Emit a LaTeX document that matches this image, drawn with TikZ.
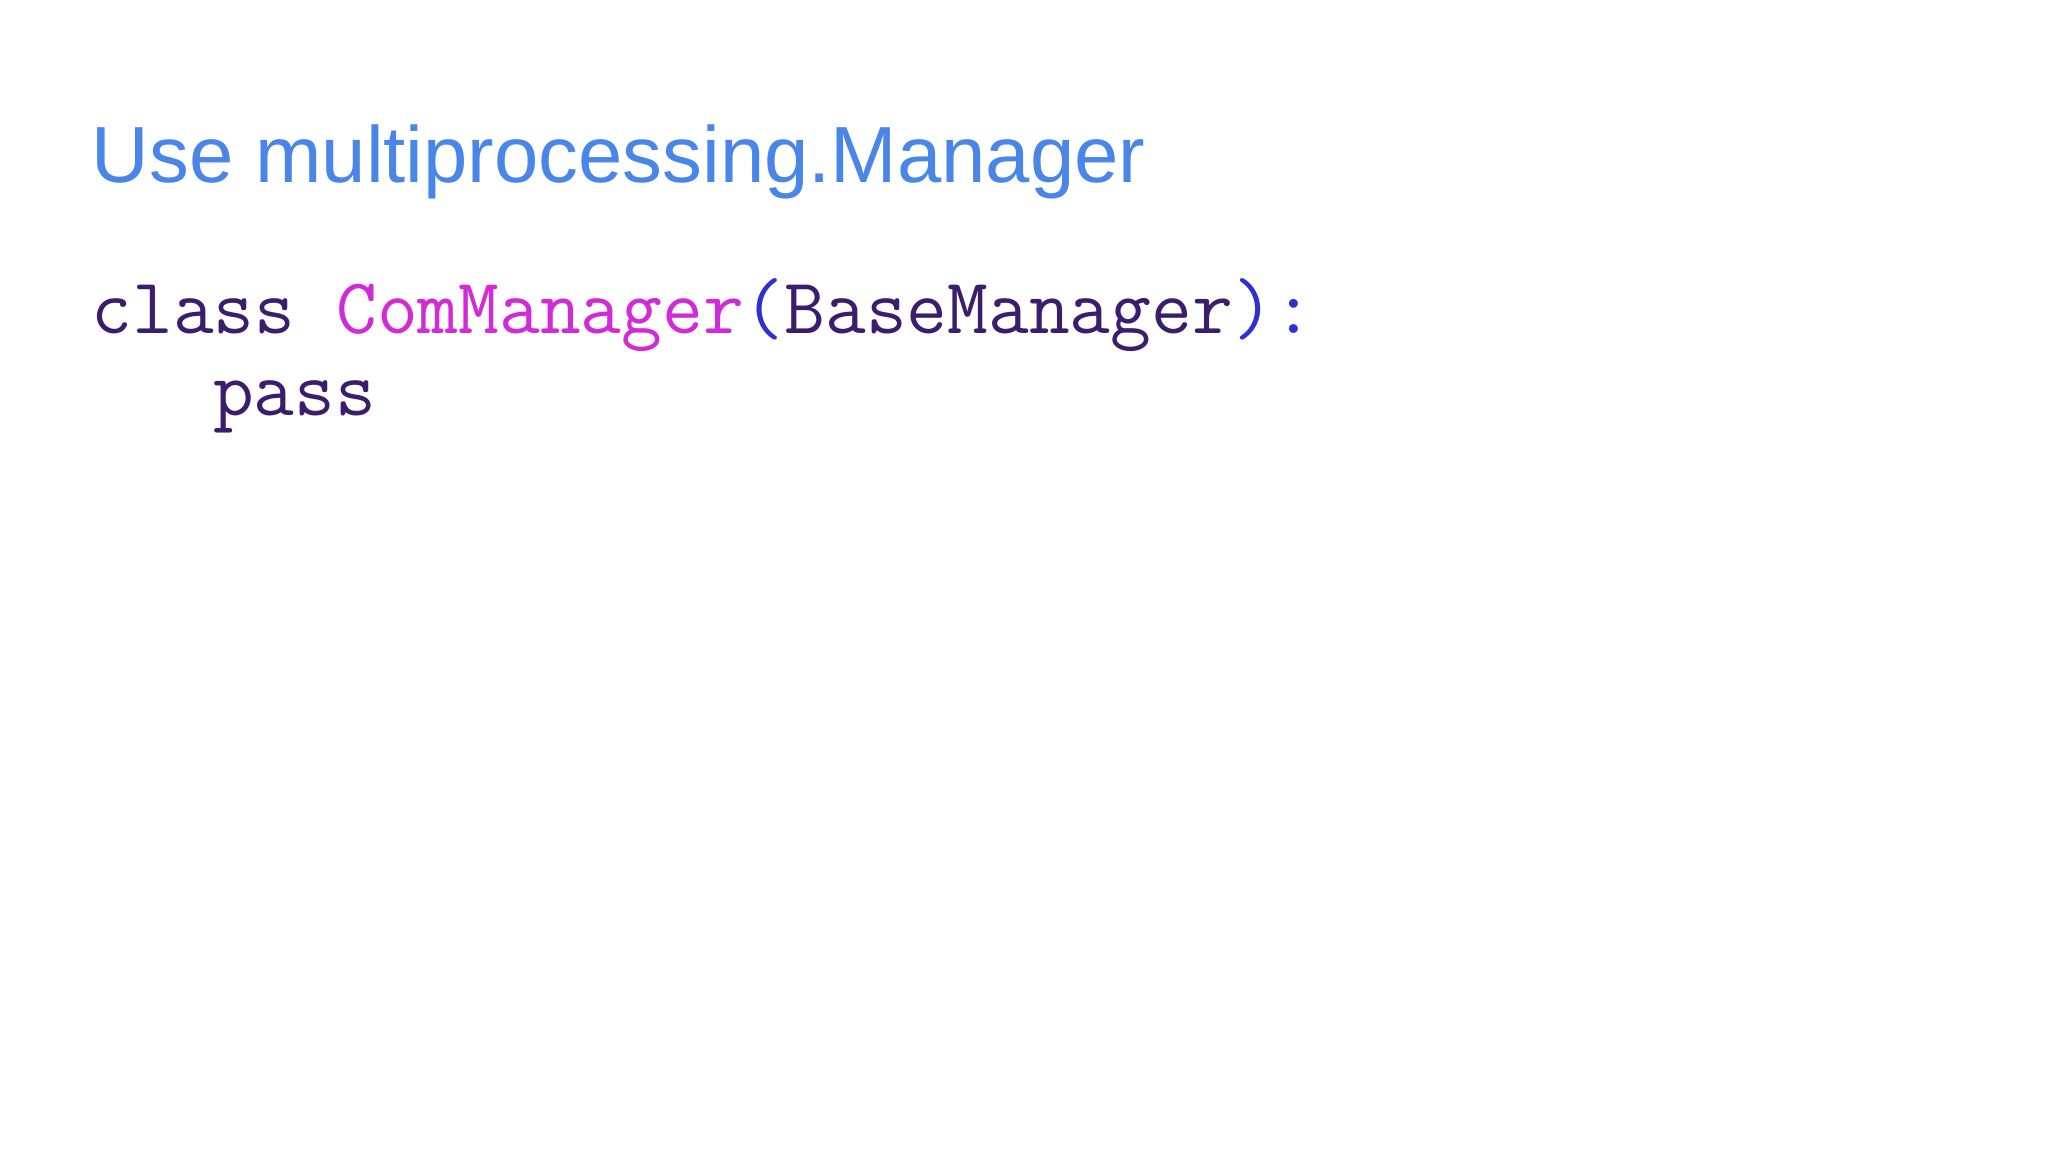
\documentclass[tikz,border=0pt]{standalone}
\usepackage{fontspec}
\setmainfont{Liberation Sans}
\definecolor{titleblue}{HTML}{4A86E8}
\definecolor{kw}{HTML}{3B1D6E}
\definecolor{cls}{HTML}{D02BD6}
\definecolor{punc}{HTML}{3030D0}
\begin{document}
\begin{tikzpicture}[x=1pt,y=-1pt,
  code/.style={anchor=base west,inner sep=0pt,font=\ttfamily\fontsize{60.6}{67}\selectfont}]
\useasboundingbox[fill=white] (0,0) rectangle (1568,882);
\node[anchor=base west,inner sep=0pt,text=titleblue,font=\fontsize{61}{70}\selectfont] (title) at (70,140) {Use multiprocessing.Manager};
\node[code] (line1) at (70,255) {\textcolor{kw}{class }\textcolor{cls}{ComManager}\textcolor{punc}{(}\textcolor{kw}{BaseManager}\textcolor{punc}{):}};
\node[code,text=kw] (line2) at (163,318) {pass};
\end{tikzpicture}
\end{document}
